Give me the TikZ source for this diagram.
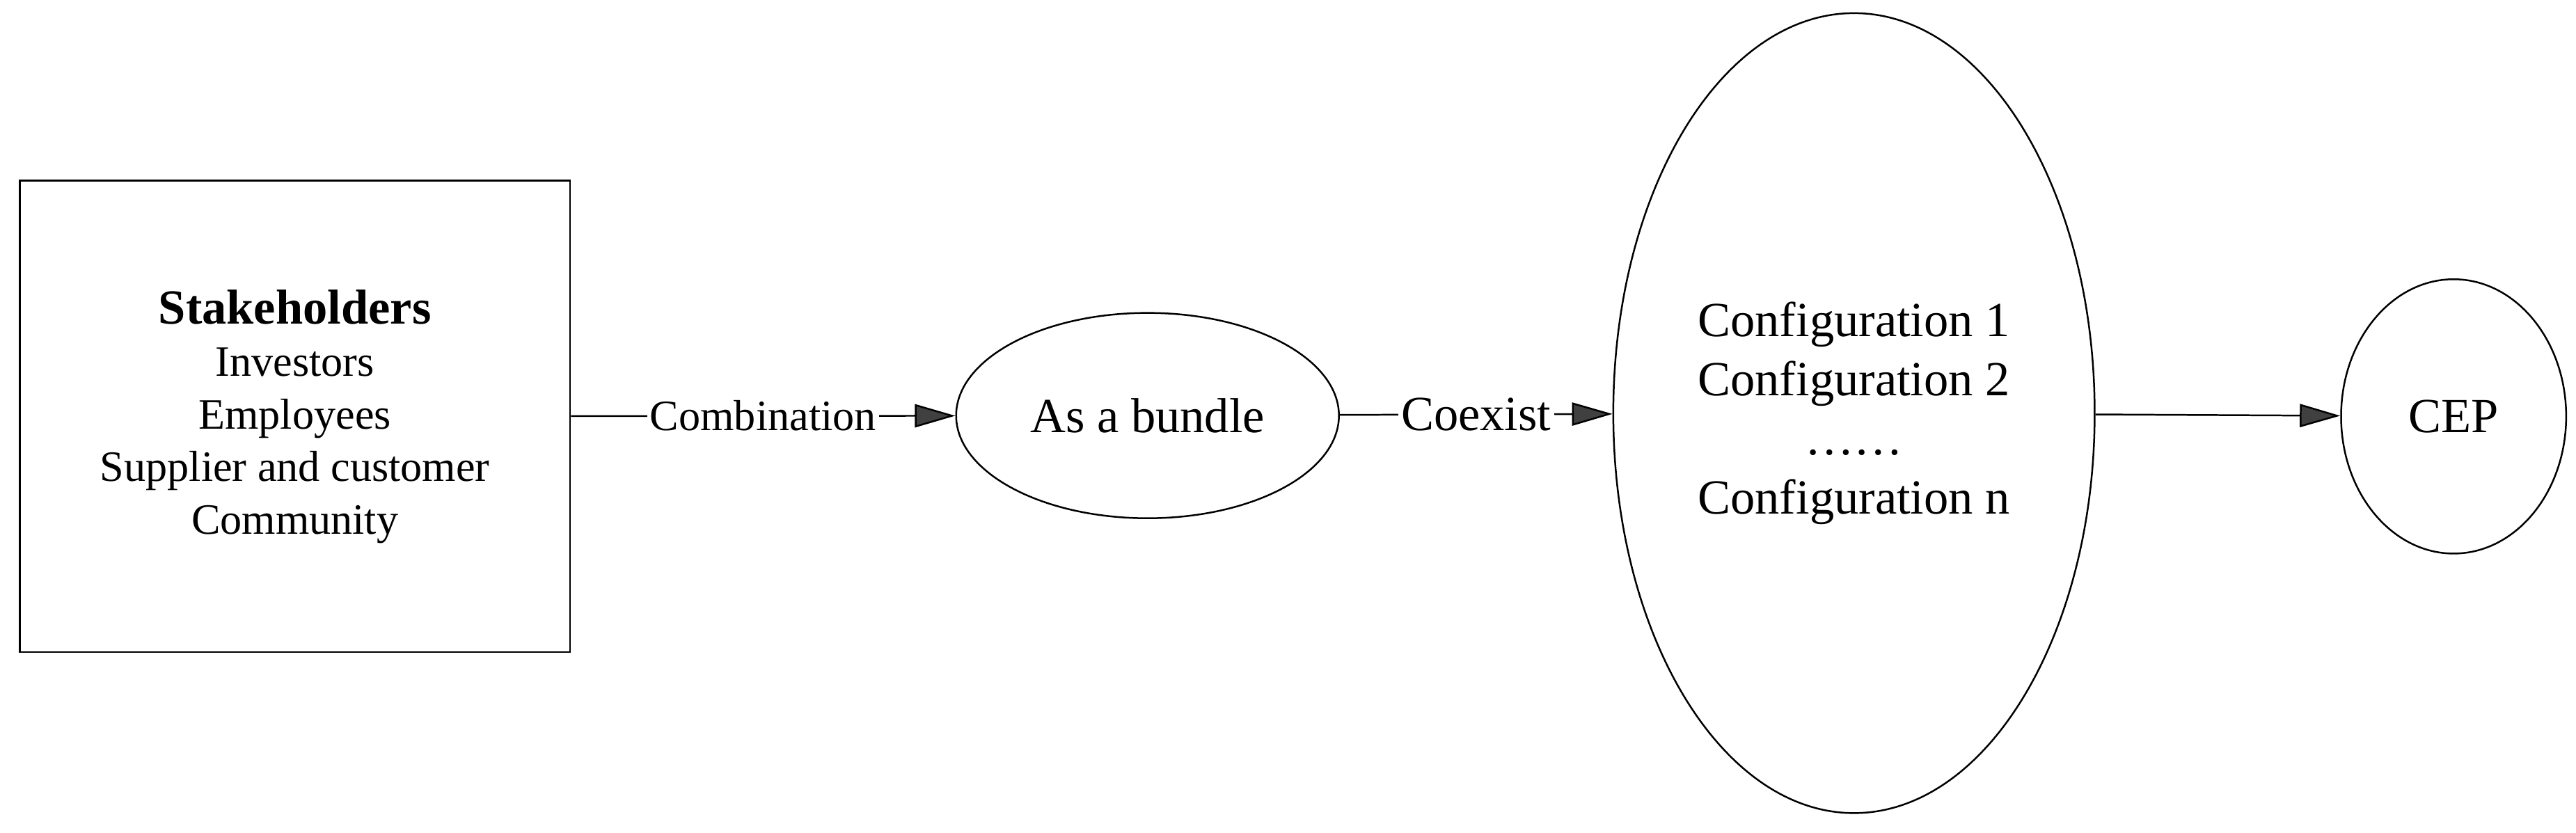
\documentclass[tikz,border=0pt]{standalone}
\usepackage{fontspec}
\setmainfont{Liberation Serif}
\usetikzlibrary{arrows.meta,shapes.geometric}

\tikzset{
  flow/.style  = {draw, line width=0.6pt, -{Triangle[length=14pt,width=8pt,fill=black!75]}},
  blob/.style  = {draw, ellipse, line width=0.6pt, inner sep=0pt},
  lbl/.style   = {fill=white, inner sep=1pt, font=\fontsize{15}{18}\selectfont},
}

\begin{document}
\begin{tikzpicture}[x=0.02cm, y=-0.02cm]
  \useasboundingbox (0,0) rectangle (1568,507);

  \node[draw, line width=0.6pt, minimum width=335*0.02cm, minimum height=287*0.02cm,
        align=center, font=\fontsize{15}{18.2}\selectfont] (stake) at (179.5,253.5)
    {{\fontsize{17}{18.2}\selectfont\bfseries Stakeholders}\\Investors\\Employees\\Supplier and customer\\Community};

  \node[blob, minimum width=233*0.02cm, minimum height=125*0.02cm,
        font=\fontsize{17}{20}\selectfont] (bundle) at (698.5,253) {As a bundle};

  \node[blob, minimum width=293*0.02cm, minimum height=487*0.02cm, align=center,
        font=\fontsize{17}{20.5}\selectfont] (config) at (1128.5,251.5)
    {Configuration 1\\Configuration 2\\\ldots\ldots\\Configuration n};

  \node[blob, minimum width=137*0.02cm, minimum height=167*0.02cm,
        font=\fontsize{17}{20}\selectfont] (cep) at (1493.5,253.5) {CEP};

  \draw[flow] (stake) -- node[lbl] {Combination} (bundle);
  \draw[flow] (bundle) -- node[lbl, font=\fontsize{17}{20}\selectfont] {Coexist} (config);
  \draw[flow] (config) -- (cep);
\end{tikzpicture}
\end{document}
